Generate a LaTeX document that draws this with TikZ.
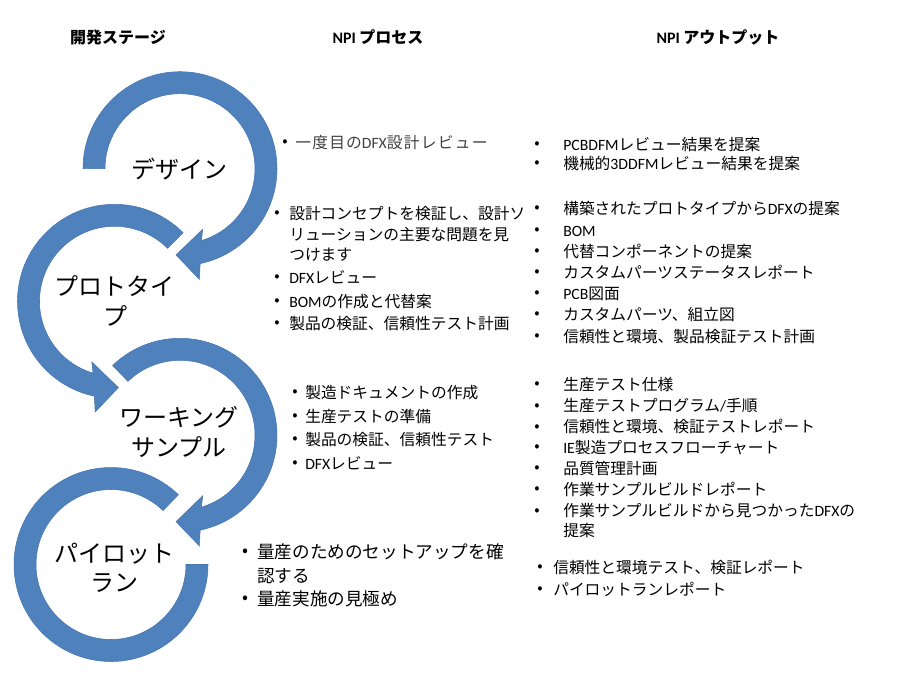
\documentclass[tikz,border=0pt]{standalone}
\usepackage{fontspec}
\setmainfont{Noto Sans CJK JP}
\newfontfamily\lat{Carlito}
\definecolor{arrowblue}{HTML}{4F81BD}
\definecolor{arrowedge}{HTML}{4675B0}
\definecolor{softgray}{HTML}{404040}
\tikzset{
  arrowfill/.style={fill=arrowblue, draw=arrowedge, line width=0.4pt},
  hdr/.style={font=\fontsize{12}{14}\selectfont\bfseries, anchor=center, inner sep=0pt},
  stage/.style={font=\fontsize{18}{22}\selectfont, align=center, inner sep=0pt},
  txt/.style={anchor=west, inner sep=0pt, text height=0.88em, text depth=0.12em, font=\fontsize{11.8}{14}\selectfont},
  bul/.style={anchor=center, inner sep=0pt, font=\fontsize{11.8}{14}\selectfont},
  bigtxt/.style={txt, font=\fontsize{13.2}{16}\selectfont},
  bigbul/.style={bul, font=\fontsize{13.2}{16}\selectfont},
}
\newcommand\bitem[5]{\node[bul] (#1b) at (#2,#4) {•}; \node[txt] (#1) at (#3,#4) {#5};}
\newcommand\citem[3]{\node[txt] (#1) at (#2,#3)}
\begin{document}
\begin{tikzpicture}[x=0.75pt,y=-0.75pt]
\fill[white] (0,0) rectangle (900,675);
\useasboundingbox (0,0) rectangle (900,675);

% ---- circular arrows (drawn bottom to top) ----
\begin{scope}[shift={(111,564.5)},y=0.75pt]
  \fill[arrowfill] (46:97) arc[start angle=46,end angle=360,radius=97]
    -- (0:75) arc[start angle=360,end angle=46,radius=75] -- cycle;
\end{scope}
\begin{scope}[shift={(180,435.3)},y=0.75pt]
  \fill[arrowfill] (134:97) arc[start angle=134,end angle=-78,radius=97]
    -- (-80.1:112.3) -- (-92.6:86.4) -- (-69.5:64.7)
    -- (-73.4:75) arc[start angle=-73.4,end angle=134,radius=75] -- cycle;
\end{scope}
\begin{scope}[shift={(114.5,301.3)},y=0.75pt]
  \fill[arrowfill] (45:97) arc[start angle=45,end angle=258,radius=97]
    -- (260.1:112.3) -- (272.6:86.4) -- (249.5:64.7)
    -- (253.4:75) arc[start angle=253.4,end angle=45,radius=75] -- cycle;
\end{scope}
\begin{scope}[shift={(180,168.7)},y=0.75pt]
  \fill[arrowfill] (180:97) arc[start angle=180,end angle=-78,radius=97]
    -- (-80.1:112.3) -- (-92.6:86.4) -- (-69.5:64.7)
    -- (-73.4:75) arc[start angle=-73.4,end angle=180,radius=75] -- cycle;
\end{scope}

% ---- headers ----
\node[hdr] (h1) at (118,37) {開発ステージ};
\node[hdr] (h2) at (378,37) {{\lat NPI} プロセス};
\node[hdr] (h3) at (718,37) {{\lat NPI} アウトプット};

% ---- stage labels ----
\node[stage] (s1) at (179,169) {デザイン};
\node[stage] (s2) at (115,301) {プロトタイ\\プ};
\node[stage] (s3) at (179,432) {ワーキング\\サンプル};
\node[stage] (s4) at (115,568) {パイロット\\ラン};

% ---- NPI process ----
\bitem{p1}{285}{295}{143}{\color{softgray}\addfontfeature{LetterSpace=8}一度目の{\lat DFX}設計レビュー}

\bitem{p2a}{277}{289}{214}{設計コンセプトを検証し、設計ソ}
\citem{p2a2}{289}{235}{リューションの主要な問題を見};
\citem{p2a3}{289}{255}{つけます};
\bitem{p2b}{277}{289}{278}{{\lat DFX}レビュー}
\bitem{p2c}{277}{289}{302.5}{{\lat BOM}の作成と代替案}
\bitem{p2d}{277}{289}{324}{製品の検証、信頼性テスト計画}

\bitem{p3a}{295}{305}{393}{製造ドキュメントの作成}
\bitem{p3b}{295}{305}{417}{生産テストの準備}
\bitem{p3c}{295}{305}{440}{製品の検証、信頼性テスト}
\bitem{p3d}{295}{305}{464}{{\lat DFX}レビュー}

\node[bigbul] (p4ab) at (245,553) {•};
\node[bigtxt] (p4a) at (257,553) {量産のためのセットアップを確};
\node[bigtxt] (p4a2) at (257,577) {認する};
\node[bigbul] (p4bb) at (245,600) {•};
\node[bigtxt] (p4b) at (257,600) {量産実施の見極め};

% ---- NPI outputs ----
\bitem{o1a}{537}{563}{145}{{\lat PCBDFM}レビュー結果を提案}
\bitem{o1b}{537}{563}{164}{機械的{\lat 3DDFM}レビュー結果を提案}

\bitem{o2a}{537}{563}{209}{構築されたプロトタイプから{\lat DFX}の提案}
\bitem{o2b}{537}{563}{231}{{\lat BOM}}
\bitem{o2c}{537}{563}{252}{代替コンポーネントの提案}
\bitem{o2d}{537}{563}{273}{カスタムパーツステータスレポート}
\bitem{o2e}{537}{563}{294}{{\lat PCB}図面}
\bitem{o2f}{537}{563}{315}{カスタムパーツ、組立図}
\bitem{o2g}{537}{563}{337}{信頼性と環境、製品検証テスト計画}

\bitem{o3a}{537}{563}{385}{生産テスト仕様}
\bitem{o3b}{537}{563}{406.7}{生産テストプログラム{\lat /}手順}
\bitem{o3c}{537}{563}{427.7}{信頼性と環境、検証テストレポート}
\bitem{o3d}{537}{563}{448.3}{{\lat IE}製造プロセスフローチャート}
\bitem{o3e}{537}{563}{469}{品質管理計画}
\bitem{o3f}{537}{563}{490}{作業サンプルビルドレポート}
\bitem{o3g}{537}{563}{511.7}{作業サンプルビルドから見つかった{\lat DFX}の}
\citem{o3g2}{563}{531.7}{提案};

\bitem{o4a}{540}{553}{568.3}{信頼性と環境テスト、検証レポート}
\bitem{o4b}{540}{553}{590}{パイロットランレポート}
\end{tikzpicture}
\end{document}
